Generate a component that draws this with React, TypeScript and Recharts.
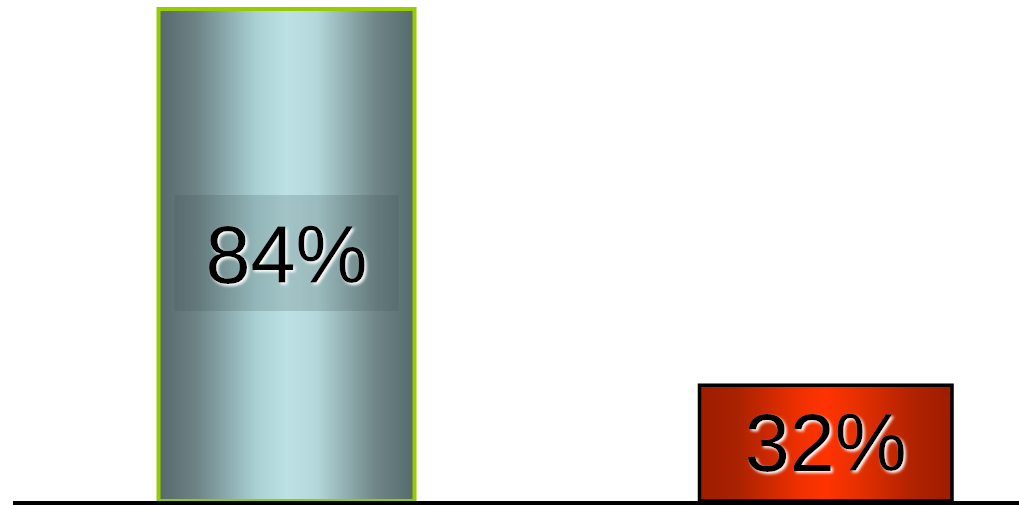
import React from "react";
import { BarChart, Bar, XAxis, YAxis, LabelList, Cell } from "recharts";

const categories = ["A", "B"];
const values = [84, 32];
const labels = ["84%", "32%"];

const data = categories.map((c, i) => ({ name: c, value: values[i], label: labels[i] }));

const barStyles = [
  { fill: "url(#gradTeal)", stroke: "#99cc00", strokeWidth: 4, inset: 0, box: true },
  { fill: "url(#gradRed)", stroke: "#000000", strokeWidth: 3.5, inset: 1.75, box: false },
];

const BarShape = (props: any) => {
  const { x, y, width, height, index } = props;
  const s = barStyles[index];
  return (
    <rect
      x={x + s.inset}
      y={y}
      width={width - 2 * s.inset}
      height={height}
      style={{ fill: s.fill, stroke: s.stroke, strokeWidth: s.strokeWidth }}
    />
  );
};

const LabelContent = (props: any) => {
  const { x, y, width, height, index, value } = props;
  const s = barStyles[index];
  const cx = x + width / 2;
  const cy = y + height / 2;
  return (
    <g>
      {s.box && (
        <rect
          x={x + 16}
          y={cy - 60}
          width={width - 32}
          height={116}
          fill="rgba(60,80,82,0.2)"
        />
      )}
      <text
        x={cx}
        y={cy}
        textAnchor="middle"
        dominantBaseline="central"
        fontFamily="'Liberation Sans', Arial, sans-serif"
        fontSize={81}
        fill="#000"
        filter="url(#glow)"
      >
        {value}
      </text>
    </g>
  );
};

export default function App() {
  return (
    <div style={{ position: "absolute", left: 0, top: 0, width: 1019, height: 505, background: "#fff" }}>
      <BarChart
        width={1019}
        height={505}
        data={data}
        margin={{ top: 9, right: -76, bottom: 0, left: 13 }}
        barCategoryGap={0}
      >
        <defs>
          <linearGradient id="gradTeal" x1="0" y1="0" x2="1" y2="0">
            <stop offset="0%" stopColor="#56696c" />
            <stop offset="15%" stopColor="#6d8386" />
            <stop offset="38%" stopColor="#a9d0d4" />
            <stop offset="50%" stopColor="#bde1e5" />
            <stop offset="62%" stopColor="#b3d7da" />
            <stop offset="85%" stopColor="#6f8587" />
            <stop offset="100%" stopColor="#566a6c" />
          </linearGradient>
          <linearGradient id="gradRed" x1="0" y1="0" x2="1" y2="0">
            <stop offset="0%" stopColor="#9e1c00" />
            <stop offset="15%" stopColor="#aa2200" />
            <stop offset="40%" stopColor="#f03000" />
            <stop offset="50%" stopColor="#ff3300" />
            <stop offset="62%" stopColor="#e83000" />
            <stop offset="85%" stopColor="#b02200" />
            <stop offset="100%" stopColor="#9e1c00" />
          </linearGradient>
          <filter id="glow" x="-20%" y="-20%" width="140%" height="140%">
            <feDropShadow dx="2" dy="2" stdDeviation="1.5" floodColor="#ffffff" floodOpacity="1" />
          </filter>
        </defs>
        <YAxis hide domain={[16, 84]} />
        <XAxis
          dataKey="name"
          tick={false}
          tickLine={false}
          height={4}
          padding={{ left: 3.5, right: 0 }}
          axisLine={{ stroke: "#000", strokeWidth: 4, transform: "translate(0,2)" }}
        />
        <Bar dataKey="value" barSize={256} shape={<BarShape />} isAnimationActive={false}>
          {data.map((d, i) => (
            <Cell key={d.name} />
          ))}
          <LabelList dataKey="label" content={<LabelContent />} />
        </Bar>
      </BarChart>
    </div>
  );
}
